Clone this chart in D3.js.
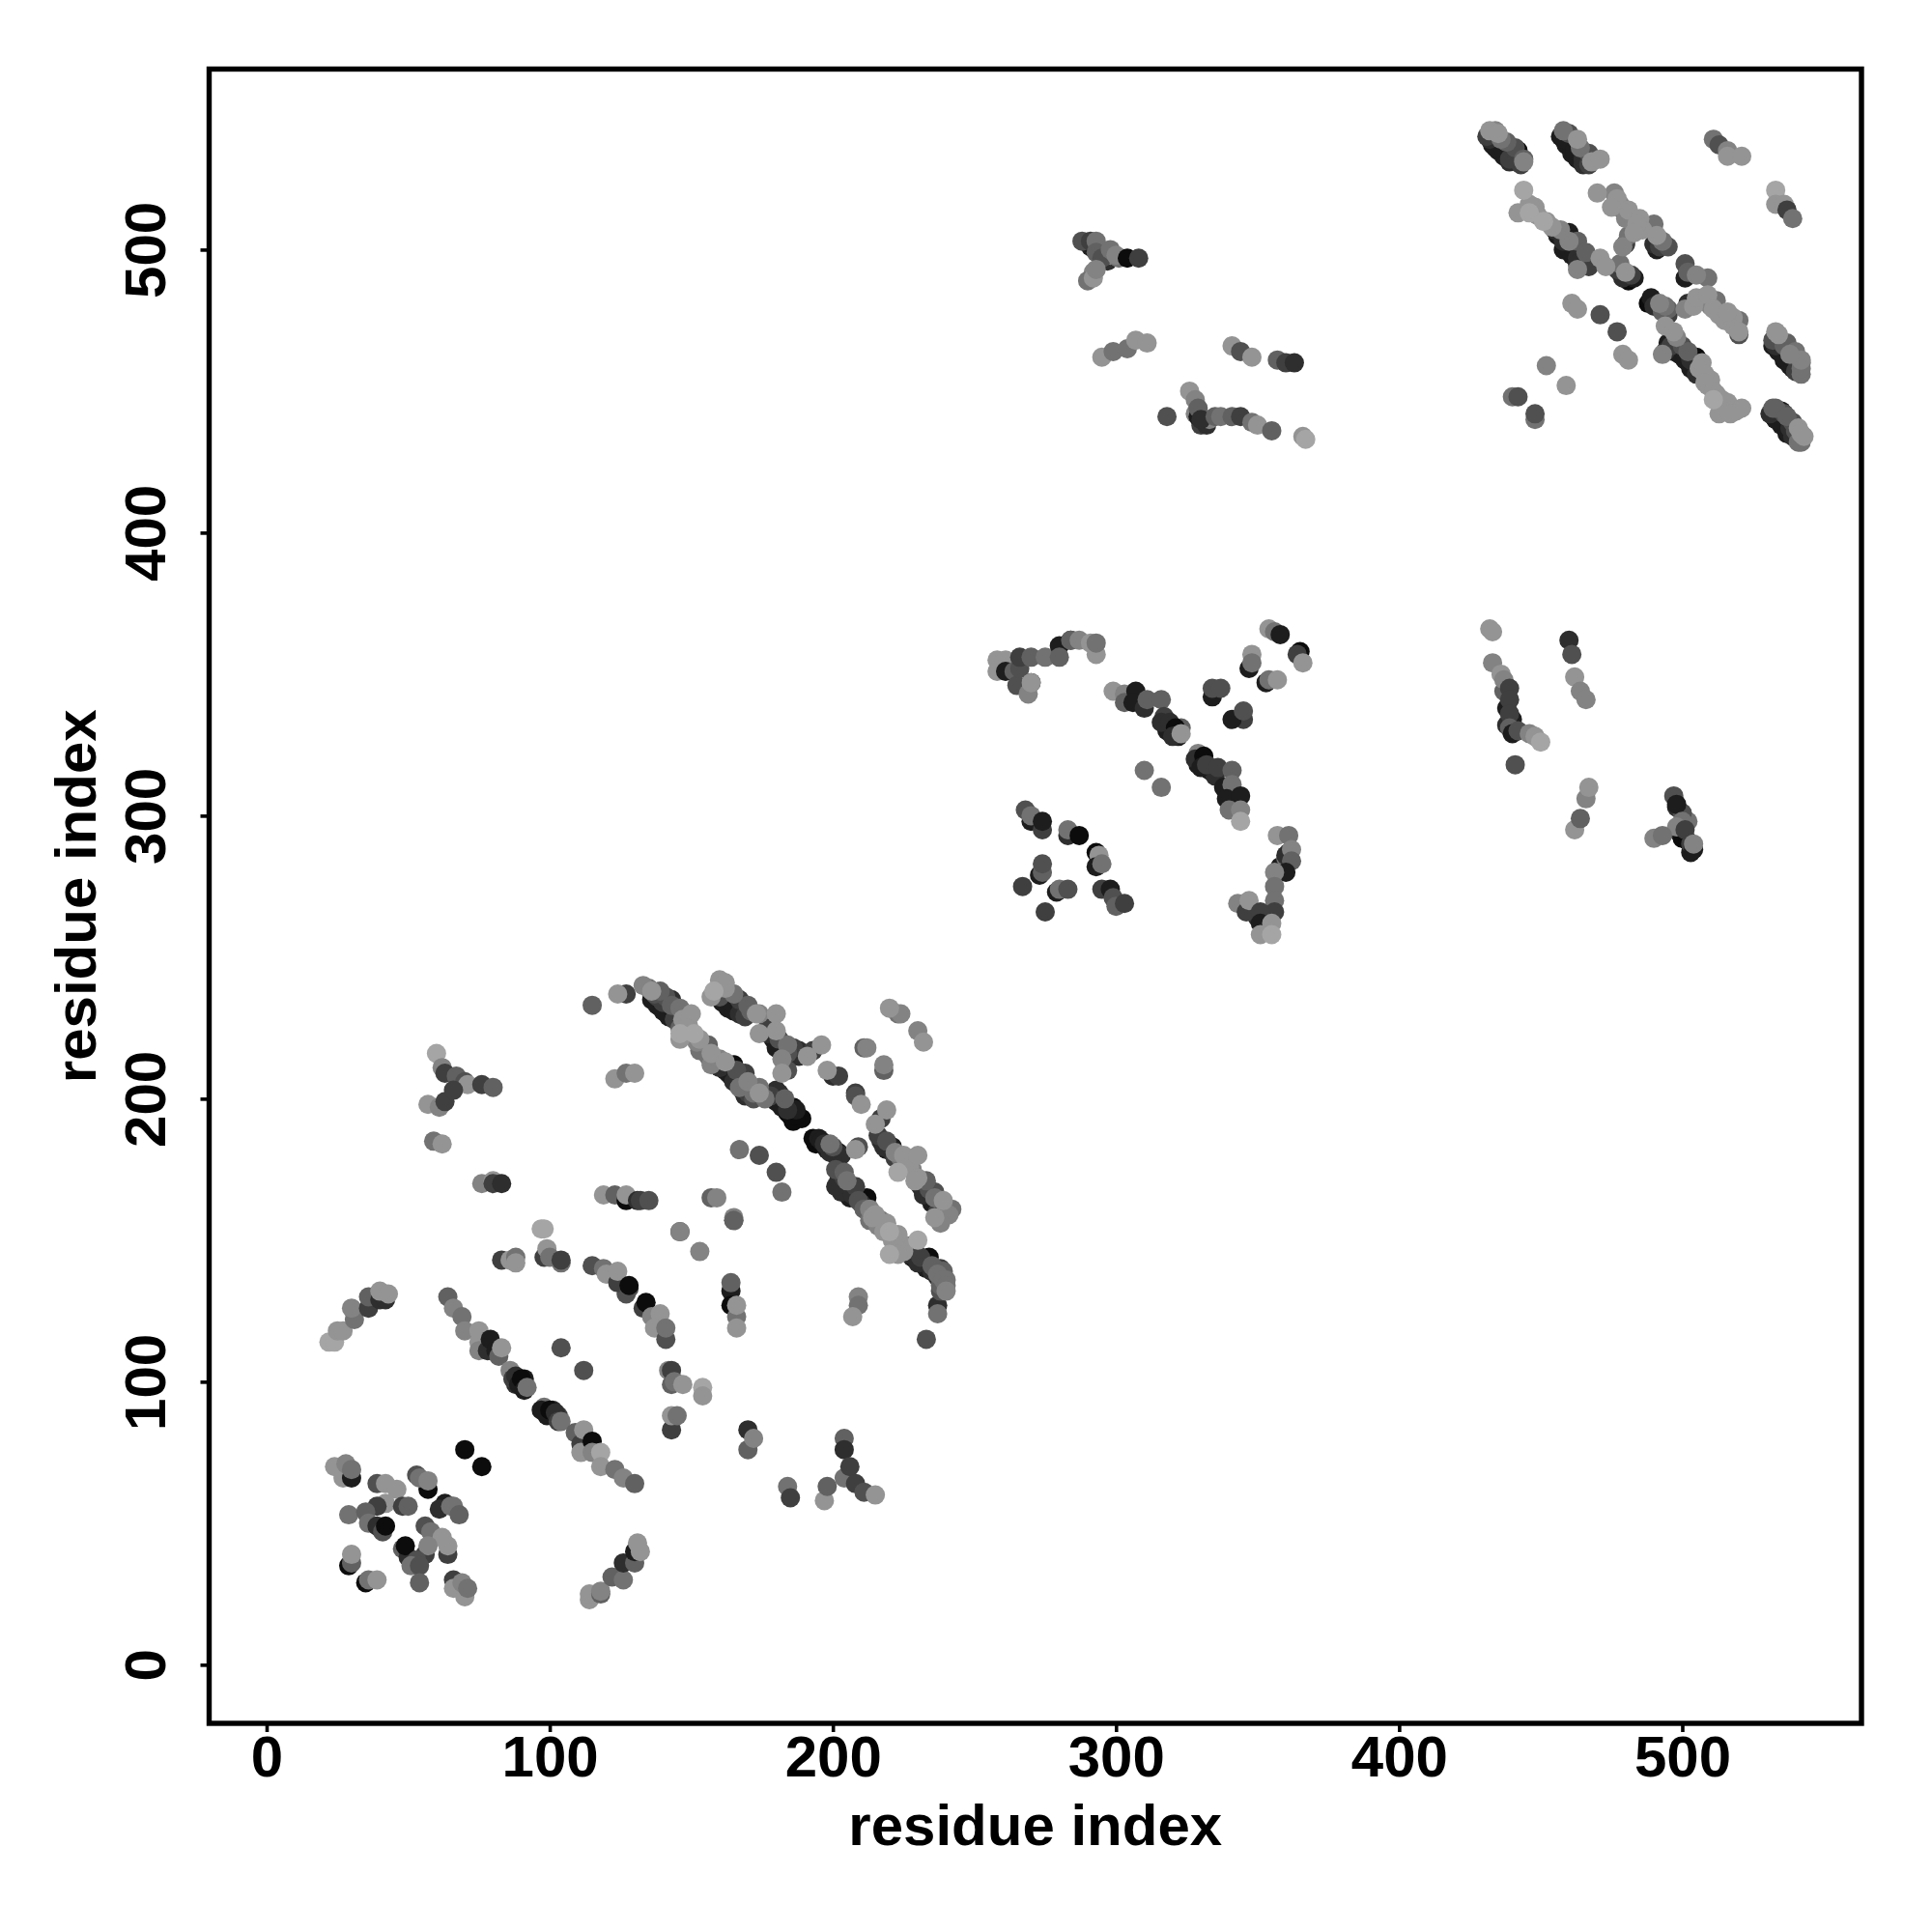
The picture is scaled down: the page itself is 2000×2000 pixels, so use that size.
<!DOCTYPE html>
<html><head><meta charset="utf-8">
<script src="https://cdn.jsdelivr.net/npm/d3@7"></script>
<style>html,body{margin:0;background:#fff}svg{display:block}</style>
</head><body><svg id="c" width="2000" height="2000"></svg>
<script>
// contacts: [residue i, residue j, shade level 0 (dark) .. 9 (light)]
const underO=[[433,537,1],[435,535,1],[437,533,1],[439,531,2],[441,532,1],[443,530,3],[431,540,3]];
const underP=[[457,540,1],[459,537,1],[461,534,1],[463,532,1],[465,530,2],[467,530,3]];
const underW=[[532,466,1],[534,464,1],[536,461,1],[538,459,1],[540,457,3],[542,456,6],[531,442,2],[533,440,1],[535,438,1],[537,436,1],[539,434,2],[541,432,6],[534,470,8],[537,467,5],[540,464,6],[542,461,7],[533,444,5],[536,442,4],[539,439,4],[541,437,8],[543,434,8]];
const underE=[[136,235,1],[138,233,1],[140,231,1],[142,229,1],[144,228,3],[137,237,4],[140,234,3],[143,233,5],[147,228,8],[149,226,8],[152,220,7],[154,218,5],[156,215,6],[158,213,4],[160,211,2],[162,210,1],[164,208,1],[166,206,1],[168,203,2],[170,202,3],[172,200,4],[174,202,8],[176,200,6],[178,201,3],[180,199,1],[182,197,1],[184,195,0],[186,192,0],[187,196,1],[189,193,0],[194,184,0],[195,186,1],[198,182,1],[199,181,2],[200,183,4],[201,180,1],[203,180,2]];
const underF=[[202,171,2],[203,167,2],[204,172,3],[206,168,1],[207,166,2],[208,165,0],[210,163,2],[211,161,5],[214,158,8],[216,155,7],[217,157,6],[218,153,8],[221,150,8],[222,149,8],[224,149,8],[225,146,8],[227,145,2],[229,146,1],[232,142,0],[233,140,1],[235,139,2],[236,140,5],[237,137,2],[238,136,3],[239,139,5],[240,136,6],[238,132,4],[240,132,7]];
const underG=[[158,238,9],[162,239,8],[161,234,1],[163,232,1],[165,231,1],[167,230,2],[169,229,3],[171,231,5],[177,223,2],[179,221,1],[181,219,1],[183,217,1],[185,215,1],[186,218,3],[188,217,2],[182,214,7],[184,214,1]];
const underH=[[217,185,2],[219,182,1],[221,181,2],[222,179,3],[232,169,1],[234,165,1],[235,163,1],[236,167,4],[237,160,3],[238,160,1],[240,161,6],[241,159,7],[238,156,7],[225,180,8],[227,176,8],[228,175,7],[231,169,2],[233,171,5]];
const underR=[[456,505,1],[458,500,1],[461,498,1],[463,497,2],[465,495,1],[467,494,3],[452,510,8],[454,508,8],[448,515,8],[446,513,9],[455,507,2],[460,503,7],[479,490,2],[481,489,0],[482,491,3]];
const underS=[[478,516,7],[477,518,8],[481,514,8],[482,511,7],[481,505,6],[485,511,8],[486,507,8],[491,500,1],[492,501,3]];
const underT=[[504,480,8],[507,482,7],[510,480,7],[513,477,8],[515,475,8],[518,473,8],[518,476,8],[490,480,2],[493,478,5],[494,480,6]];
const underV=[[495,467,1],[497,464,1],[499,463,1],[501,461,1],[503,458,1],[505,456,2],[498,469,7],[502,464,5],[506,458,8],[509,452,8],[512,449,8],[510,454,8],[516,446,8],[514,444,8],[519,443,8],[511,447,9]];
const underMisc=[[330,438,3],[328,442,7],[329,441,1],[332,438,2],[333,440,7],[291,501,1],[293,500,1],[295,498,0],[297,496,2],[298,498,7],[292,492,7],[290,489,6],[296,499,5],[301,497,6],[498,303,2],[499,294,2],[500,292,0],[502,291,0],[503,287,1],[502,298,6],[500,301,4],[437,344,5],[438,338,1],[440,334,1],[438,332,2],[358,282,1],[361,287,2],[360,285,6],[354,264,2],[352,262,8],[350,264,2],[318,330,1],[322,328,1],[323,331,5],[329,318,1],[333,316,1],[335,314,2],[89,100,0],[91,101,1],[88,99,2],[99,88,1],[101,90,2],[103,88,3],[127,131,4]];
const arcA=[[22,114,9],[24,114,9],[25,118,8],[27,118,8],[31,122,6],[30,126,7],[36,126,3],[36,130,5],[40,129,2],[42,129,2],[40,132,8],[43,131,8]];
const lineB=[[64,130,5],[66,126,7],[69,123,6],[70,118,7],[75,118,8],[75,114,8],[75,111,7],[78,111,2],[79,115,1],[81,111,1],[82,109,5],[83,112,8],[86,104,7],[87,101,3],[88,102,2],[89,99,1],[90,101,0],[91,97,1],[92,98,6],[98,91,6],[97,90,1],[100,90,0],[102,89,2],[103,86,3],[104,86,6],[109,82,5],[111,78,3],[112,83,8],[111,75,8],[115,79,0],[115,75,7],[118,75,9],[118,70,8],[123,69,6],[126,66,7],[130,64,5]];
const singlesA=[[104,112,4],[112,104,4],[70,76,0],[76,70,0]];
const knotA=[[24,70,8],[27,66,8],[30,66,1],[28,71,7],[30,69,6],[39,64,4],[42,64,8],[46,62,8],[42,57,8],[39,56,3],[48,56,3],[50,56,5],[29,53,6],[35,54,5],[36,50,6],[39,49,2],[41,47,4],[42,49,0],[53,67,4],[57,62,0],[54,66,6],[57,65,7],[63,57,1],[61,55,2],[65,56,6],[66,56,6],[68,53,5],[56,49,4],[58,47,6],[62,45,8],[64,39,3],[64,42,8],[56,39,3],[57,42,7],[48,41,5],[50,38,2],[49,42,0],[53,37,4],[51,35,6],[54,35,4],[29,35,0],[30,36,5],[30,39,8],[35,29,0],[36,30,6],[39,30,8],[54,29,5],[66,30,3],[66,27,8],[70,24,8],[69,29,7],[71,27,6]];
const stemA=[[114,23,8],[114,25,8],[118,25,5],[118,26,7],[122,31,5],[126,30,6],[126,36,2],[130,36,5],[130,40,1],[131,43,8],[132,40,8]];
const arcC=[[97,154,9],[98,154,9],[83,143,3],[86,143,8],[88,144,6],[88,142,8],[98,144,3],[99,147,8],[100,144,6],[104,142,6],[104,143,3],[115,141,4],[119,140,6],[120,138,8],[124,135,3],[124,139,8],[128,133,4],[128,134,0],[133,126,3],[134,128,0],[136,123,7],[139,124,8],[137,119,8],[141,115,4],[141,119,6],[146,153,4],[146,153,7],[153,146,7],[165,157,4],[165,158,7],[164,132,1],[164,135,5],[164,127,0],[166,123,6],[166,119,8],[166,127,8],[142,104,7],[143,104,3],[143,99,5],[144,100,6],[147,99,8],[154,98,9],[154,95,8],[143,83,3],[143,88,8],[145,88,6],[170,83,2],[170,76,5],[172,80,7]];
const blobD=[[184,63,6],[185,59,3],[197,58,8],[198,63,5],[204,80,5],[204,76,2],[204,66,6],[206,70,3],[208,64,3],[211,61,4],[215,60,8],[209,130,7],[209,127,6],[207,123,8]];
const diagE=[[115,233,5],[124,237,8],[127,237,3],[133,240,7],[135,239,6],[136,238,8],[138,236,3],[139,238,5],[139,235,1],[141,236,4],[142,233,1],[143,235,2],[144,231,1],[146,232,6],[146,225,5],[150,230,8],[146,221,8],[146,223,9],[148,225,8],[151,223,9],[153,221,8],[153,217,6],[156,219,5],[157,216,8],[157,212,7],[160,214,7],[162,213,8],[163,209,1],[165,212,0],[165,206,2],[166,210,4],[167,204,6],[169,209,3],[169,201,2],[170,206,7],[172,202,6],[174,204,6],[175,201,4],[180,203,2],[181,202,2],[183,200,5],[184,196,2],[185,194,0],[186,197,0],[187,194,0],[193,186,0],[196,185,1],[197,184,2],[199,184,6],[202,181,1],[208,182,8],[209,183,4]];
const diagF=[[201,169,2],[201,175,4],[204,174,5],[205,171,6],[206,165,1],[208,169,3],[209,164,4],[212,165,0],[213,157,6],[213,161,7],[215,159,8],[219,156,8],[220,153,9],[223,152,8],[220,145,9],[223,145,8],[226,148,3],[230,150,9],[228,144,1],[230,142,2],[231,144,3],[234,144,0],[235,141,5],[238,140,3],[237,138,6],[239,136,6],[238,134,5],[240,134,6],[237,124,6],[237,127,2],[233,115,4]];
const diagG=[[160,242,8],[162,241,8],[157,236,8],[160,236,4],[164,234,1],[165,237,6],[167,235,3],[168,232,2],[170,233,5],[173,230,8],[174,230,7],[174,223,8],[180,230,8],[180,224,8],[177,225,3],[181,221,4],[180,218,1],[184,219,6],[184,216,4],[187,217,1],[188,215,2],[191,215,8],[193,217,3],[196,219,8],[182,209,8],[184,210,4],[198,210,8],[200,208,2],[202,208,3],[208,201,4],[208,202,3],[210,198,8],[220,232,8],[223,230,6],[224,230,7],[230,224,7],[232,220,8],[211,218,5],[212,218,7],[218,210,5],[218,212,7],[219,196,8],[217,193,3],[215,191,8]];
const diagH=[[216,187,3],[218,183,2],[219,185,4],[221,183,1],[222,181,7],[224,179,6],[223,174,9],[227,178,2],[230,180,8],[230,172,8],[229,171,8],[231,171,3],[232,166,2],[234,168,4],[236,165,6],[236,158,8],[237,162,1],[239,164,8],[242,161,6]];
const scatterI=[[167,182,6],[174,180,4],[180,174,4],[182,167,6],[119,166,8],[123,166,5],[127,164,0],[127,166,8],[131,164,2],[132,164,3],[135,164,4],[157,165,5],[159,165,7],[165,157,5],[123,207,8],[127,209,6],[130,209,8]];
const blockJ=[[258,355,8],[258,351,8],[261,355,8],[261,351,1],[264,351,5],[265,346,4],[266,352,4],[266,356,3],[270,347,0],[269,343,7],[270,347,8],[270,356,5],[275,356,6],[280,360,1],[280,356,5],[284,362,2],[284,362,5],[287,362,7],[291,361,8],[293,357,8],[293,361,6]];
const lineK=[[299,344,8],[303,343,7],[303,340,5],[307,344,1],[306,340,1],[310,338,2],[311,341,5],[316,341,5],[317,335,3],[316,333,2],[319,333,2],[321,331,0],[320,328,2],[323,329,8],[329,322,7],[328,320,2],[331,321,0],[330,317,1],[332,318,3],[336,317,3],[341,316,5],[338,310,1],[341,311,6],[339,306,1],[344,307,1],[340,302,6],[344,302,7],[344,298,9],[310,316,6],[316,310,6]];
const cornerL=[[354,366,8],[356,365,6],[358,364,1],[365,358,0],[364,357,3],[366,354,8],[348,357,8],[347,352,1],[348,354,6],[334,342,1],[334,345,4],[337,345,4],[345,334,3],[341,334,1],[345,337,4],[353,347,1],[354,348,6],[357,348,8]];
const blockM=[[268,302,4],[270,298,1],[270,300,6],[274,295,3],[274,298,1],[283,293,2],[283,295,6],[287,293,0],[293,287,0],[294,286,8],[293,282,1],[295,283,6],[273,279,1],[274,280,5],[274,283,4],[267,275,3],[279,273,1],[280,274,6],[283,274,4],[275,266,3],[295,274,3],[298,274,1],[299,271,4],[300,268,5],[303,269,3]];
const hookN=[[357,293,8],[361,293,6],[360,286,2],[362,288,7],[362,284,5],[360,280,1],[356,280,7],[356,275,6],[356,270,6],[356,266,3],[343,269,7],[346,266,3],[347,270,8],[351,266,3],[351,262,1],[355,262,8],[351,258,8],[355,258,9]];
const stripO=[[432,542,8],[434,542,7],[435,541,8],[432,539,2],[434,536,1],[436,539,6],[437,535,1],[438,538,5],[439,532,3],[441,536,4],[442,535,0],[444,532,5],[444,531,7]];
const stripP=[[458,542,6],[458,539,1],[460,541,4],[462,535,1],[463,539,8],[464,536,6],[465,532,2],[467,534,4],[468,531,8],[471,532,8]];
const stripQ=[[511,539,6],[513,537,4],[516,535,7],[516,533,8],[521,533,8],[533,521,9],[533,516,8],[536,516,8],[537,514,3],[539,511,6]];
const diagR=[[444,521,9],[442,513,8],[446,516,8],[449,512,8],[451,510,9],[457,507,7],[458,503,2],[460,506,1],[460,500,1],[463,503,5],[463,493,7],[463,495,2],[466,499,5],[467,497,2],[471,497,8],[473,494,8],[477,493,3],[478,495,6],[478,492,2],[480,492,8],[483,490,1]];
const diagS=[[470,520,8],[476,520,7],[475,515,8],[479,514,6],[480,511,7],[484,509,8],[483,506,8],[479,501,7],[480,502,3],[490,509,6],[491,505,8],[490,502,2],[493,503,6],[495,501,4],[501,495,4],[502,492,5],[501,490,1],[505,491,7],[509,490,6]];
const diagT=[[489,483,1],[488,481,0],[492,481,7],[495,477,3],[495,479,5],[501,479,7],[502,481,2],[505,483,8],[509,484,8],[512,482,6],[511,479,8],[516,478,8],[520,470,4],[520,471,8],[520,475,6]];
const scatterU=[[461,481,8],[463,479,8],[471,477,4],[477,471,4],[479,463,8],[481,461,8],[452,459,7],[459,452,8],[440,448,6],[442,448,4],[448,440,6],[448,442,4]];
const diagV=[[494,473,8],[497,471,8],[493,463,7],[494,464,2],[496,466,3],[500,466,4],[501,463,1],[503,461,2],[505,462,0],[507,460,8],[508,456,8],[508,453,8],[511,450,8],[514,447,8],[517,444,8],[513,442,8],[517,442,8],[521,444,8]];
const stripW=[[533,471,8],[532,468,4],[533,466,2],[536,466,5],[536,462,1],[538,463,7],[539,458,1],[540,462,2],[542,458,6],[542,460,5],[532,444,5],[535,443,1],[533,440,1],[537,441,5],[537,435,1],[538,437,2],[540,436,4],[542,432,6],[542,435,8]];
const clusterX=[[288,503,4],[291,503,3],[293,503,6],[293,499,5],[295,497,4],[298,500,6],[300,498,7],[304,497,0],[308,497,3],[292,490,8],[293,493,7],[295,462,8],[299,464,6],[304,465,6],[307,468,8],[311,467,8]];
const clusterY=[[318,441,4],[326,450,8],[328,447,7],[329,444,5],[330,440,2],[335,441,5],[337,441,6],[341,441,5],[344,441,3],[348,439,6],[350,438,8],[355,436,5],[366,434,8],[367,433,9],[341,466,8],[344,464,4],[348,462,8],[357,461,5],[360,460,3],[363,460,2]];
const clusterZ=[[432,366,8],[433,365,8],[433,354,7],[436,350,8],[437,348,7],[439,345,3],[439,341,3],[439,336,3],[439,331,5],[440,329,1],[442,330,4],[446,329,7],[448,328,8],[450,326,9],[441,318,4],[460,362,2],[461,357,4],[462,349,8],[464,344,7],[466,341,7],[462,295,8],[464,299,5],[466,306,7],[467,310,8],[497,307,4],[498,304,1],[500,298,6],[498,296,7],[501,295,3],[503,290,3],[504,288,1],[490,292,7],[493,293,6],[504,290,7]];
const armAA=[[60,216,9],[62,211,7],[63,209,3],[67,208,5],[70,206,4],[71,205,8],[76,205,3],[80,204,5],[57,198,8],[61,197,7],[63,199,3],[66,203,3],[59,185,6],[62,184,8],[76,170,7],[80,171,8],[80,170,3],[83,170,2]];

const looseGroups=[underMisc,arcA,lineB,singlesA,knotA,stemA,arcC,blobD,scatterI,blockJ,lineK,cornerL,blockM,hookN,stripQ,scatterU,clusterX,clusterY,clusterZ,armAA];
const bandGroups=[underO,stripO,underP,stripP,underW,stripW,underE,diagE,underF,diagF,underG,diagG,underH,diagH,underR,diagR,underS,diagS,underT,diagT,underV,diagV];
const tickValues=[0,100,200,300,400,500];
const xTitle="residue index", yTitle="residue index";

const L=216.5,R=1927,T=71.5,B=1784;
const x=d3.scaleLinear([-20.3,563.3],[L,R]);
const y=d3.scaleLinear([-20.7,563.8],[B,T]);
const shade=d3.scaleLinear([0,9],[12,165]);
const svg=d3.select("#c");
const font="'Liberation Sans',Arial,Helvetica,sans-serif";

// inside the dense bands the lighter contacts sit on top of the darker ones
const contacts=[...looseGroups.flat(),...bandGroups.flat().sort((a,b)=>d3.ascending(a[2],b[2]))];
svg.append("g").selectAll("circle").data(contacts).join("circle")
 .attr("cx",d=>x(d[0])).attr("cy",d=>y(d[1])).attr("r",10)
 .attr("fill",d=>{const g=Math.round(shade(d[2]));return `rgb(${g},${g},${g})`;});

svg.append("rect").attr("x",L).attr("y",T).attr("width",R-L).attr("height",B-T)
 .attr("fill","none").attr("stroke","#000").attr("stroke-width",5.4);

const ax=svg.append("g").attr("transform",`translate(0,${B})`)
 .call(d3.axisBottom(x).tickValues(tickValues).tickSize(9).tickPadding(3.4).tickFormat(d3.format("d")));
const ay=svg.append("g").attr("transform",`translate(${L},0)`)
 .call(d3.axisLeft(y).tickValues(tickValues).tickSize(9).tickPadding(0).tickFormat(d3.format("d")));
[ax,ay].forEach(a=>{a.select(".domain").remove();
 a.selectAll("line").attr("stroke","#000").attr("stroke-width",3.6);
 a.selectAll("text").attr("fill","#000").attr("font-family",font).attr("font-weight","bold").attr("font-size",60);});
ay.selectAll("text").attr("text-anchor","middle").attr("dy",0).attr("x",0)
 .attr("transform","translate(-45.5,0) rotate(-90)");

svg.append("text").attr("x",(L+R)/2).attr("y",1910).attr("text-anchor","middle")
 .attr("font-family",font).attr("font-weight","bold").attr("font-size",60).text(xTitle);
svg.append("text").attr("transform",`translate(99,${(T+B)/2}) rotate(-90)`).attr("text-anchor","middle")
 .attr("font-family",font).attr("font-weight","bold").attr("font-size",60).text(yTitle);
</script></body></html>
